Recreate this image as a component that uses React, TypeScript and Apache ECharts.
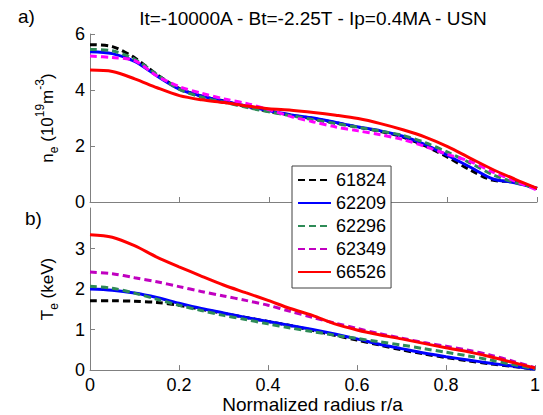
import React, { useEffect, useRef } from "react";
import * as echarts from "echarts";

const radius = [0, 0.05, 0.1, 0.15, 0.2, 0.25, 0.3, 0.35, 0.4, 0.45, 0.5, 0.55, 0.6, 0.65, 0.7, 0.75, 0.8, 0.85, 0.9, 0.95, 1.0];

const shots = ["61824", "62209", "62296", "62349", "66526"];

// electron density n_e (10^19 m^-3)
const ne61824 = [5.62, 5.55, 5.15, 4.55, 4.05, 3.78, 3.6, 3.4, 3.24, 3.1, 2.98, 2.83, 2.67, 2.52, 2.32, 2.0, 1.6, 1.15, 0.78, 0.72, 0.48];
const ne62209 = [5.37, 5.3, 5.02, 4.5, 4.03, 3.78, 3.6, 3.42, 3.26, 3.11, 3.0, 2.84, 2.68, 2.54, 2.35, 2.05, 1.66, 1.25, 0.83, 0.69, 0.49];
const ne62296 = [5.45, 5.4, 5.1, 4.55, 4.02, 3.74, 3.56, 3.38, 3.22, 3.08, 2.94, 2.8, 2.67, 2.53, 2.38, 2.12, 1.78, 1.4, 0.98, 0.7, 0.5];
const ne62349 = [5.21, 5.16, 5.05, 4.5, 4.12, 3.88, 3.68, 3.52, 3.3, 3.05, 2.86, 2.68, 2.54, 2.4, 2.23, 1.98, 1.7, 1.45, 1.08, 0.75, 0.43];
const ne66526 = [4.71, 4.66, 4.4, 4.08, 3.8, 3.65, 3.55, 3.43, 3.33, 3.28, 3.2, 3.1, 2.98, 2.8, 2.58, 2.32, 1.98, 1.57, 1.17, 0.82, 0.49];

// electron temperature T_e (keV)
const te61824 = [1.71, 1.71, 1.7, 1.67, 1.6, 1.5, 1.4, 1.3, 1.2, 1.1, 0.98, 0.86, 0.74, 0.62, 0.5, 0.4, 0.31, 0.23, 0.15, 0.09, 0.02];
const te62209 = [2.0, 1.97, 1.9, 1.79, 1.65, 1.52, 1.41, 1.3, 1.2, 1.1, 1.0, 0.89, 0.77, 0.64, 0.53, 0.42, 0.33, 0.25, 0.17, 0.1, 0.02];
const te62296 = [2.07, 2.02, 1.9, 1.75, 1.6, 1.47, 1.35, 1.25, 1.14, 1.04, 0.95, 0.86, 0.78, 0.7, 0.62, 0.53, 0.44, 0.35, 0.25, 0.14, 0.03];
const te62349 = [2.42, 2.38, 2.28, 2.18, 2.06, 1.94, 1.83, 1.72, 1.6, 1.45, 1.3, 1.16, 1.03, 0.9, 0.79, 0.68, 0.59, 0.49, 0.37, 0.22, 0.06];
const te66526 = [3.34, 3.28, 3.07, 2.79, 2.55, 2.32, 2.1, 1.91, 1.72, 1.52, 1.35, 1.14, 0.99, 0.87, 0.77, 0.66, 0.55, 0.45, 0.33, 0.19, 0.05];

const xTicks = [0, 0.2, 0.4, 0.6, 0.8, 1];
const neTicks = [0, 2, 4, 6];
const teTicks = [0, 1, 2, 3];

const titleText = "It=-10000A - Bt=-2.25T - Ip=0.4MA - USN";

const FONT = "'Liberation Sans', Arial, sans-serif";
const AXIS_GRAY = "#808080";

const neSeries = [ne61824, ne62209, ne62296, ne62349, ne66526];
const teSeries = [te61824, te62209, te62296, te62349, te66526];
const colorsTop = ["#000000", "#0000ff", "#2e8b57", "#ff00ff", "#ff0000"];
const colorsBottom = ["#000000", "#0000ff", "#2e8b57", "#c000c0", "#ff0000"];
const dashed = [true, false, true, true, false];

const pairs = (vals: number[]) => radius.map((r, i) => [r, vals[i]]);

export default function App() {
  const ref = useRef<HTMLDivElement>(null);
  useEffect(() => {
    if (!ref.current) return;
    const chart = echarts.init(ref.current, null, { renderer: "svg" });

    const axisCommon = {
      axisLine: { show: true, lineStyle: { color: AXIS_GRAY, width: 1 } },
      axisTick: { show: true, inside: true, length: 5, lineStyle: { color: AXIS_GRAY } },
      splitLine: { show: false },
      axisLabel: { color: "#000", fontSize: 18, fontFamily: FONT, margin: 5 },
    };

    const series: any[] = [];
    shots.forEach((name, i) => {
      series.push({
        name,
        type: "line",
        xAxisIndex: 1,
        yAxisIndex: 1,
        data: pairs(teSeries[i]),
        showSymbol: false,
        symbol: "none",
        smooth: 0.3,
        lineStyle: { color: colorsBottom[i], width: 3, type: dashed[i] ? [7, 4] : "solid" },
        itemStyle: { color: colorsBottom[i] },
        z: 2 + i,
      });
    });
    shots.forEach((name, i) => {
      series.push({
        name,
        type: "line",
        xAxisIndex: 0,
        yAxisIndex: 0,
        data: pairs(neSeries[i]),
        showSymbol: false,
        symbol: "none",
        smooth: 0.3,
        lineStyle: { color: colorsTop[i], width: 3, type: dashed[i] ? [7, 4] : "solid" },
        itemStyle: { color: colorsTop[i] },
        z: 2 + i,
      });
    });

    const nameRich = {
      n: { fontSize: 17, fontFamily: FONT, color: "#000", lineHeight: 26, verticalAlign: "middle" },
      sub: { fontSize: 12, fontFamily: FONT, color: "#000", lineHeight: 12, verticalAlign: "bottom" },
      sup: { fontSize: 12, fontFamily: FONT, color: "#000", lineHeight: 12, verticalAlign: "top" },
    };

    chart.setOption({
      animation: false,
      grid: [
        { left: 90, top: 34, width: 447, height: 168 },
        { left: 90, top: 208, width: 447, height: 164 },
      ],
      xAxis: [
        {
          ...axisCommon,
          gridIndex: 0,
          type: "value",
          min: xTicks[0],
          max: xTicks[xTicks.length - 1],
          interval: 0.2,
          axisLabel: { show: false },
        },
        {
          ...axisCommon,
          gridIndex: 1,
          type: "value",
          min: xTicks[0],
          max: xTicks[xTicks.length - 1],
          interval: 0.2,
          name: "Normalized radius r/a",
          nameLocation: "middle",
          nameGap: 20,
          nameTextStyle: { color: "#000", fontSize: 19, fontFamily: FONT },
          axisLabel: { ...axisCommon.axisLabel, margin: 6 },
        },
      ],
      yAxis: [
        {
          ...axisCommon,
          gridIndex: 0,
          type: "value",
          min: neTicks[0],
          max: neTicks[neTicks.length - 1],
          interval: 2,
          name: "{n|n}{sub|e}{n| (10}{sup|19}{n|m}{sup|-3}{n|)}",
          nameLocation: "middle",
          nameRotate: 90,
          nameGap: 30,
          nameTextStyle: { rich: nameRich },
        },
        {
          ...axisCommon,
          gridIndex: 1,
          type: "value",
          min: teTicks[0],
          max: 4,
          interval: 1,
          name: "{n|T}{sub|e}{n| (keV)}",
          nameLocation: "middle",
          nameRotate: 90,
          nameGap: 30,
          nameTextStyle: { rich: nameRich },
          axisLabel: { ...axisCommon.axisLabel, showMaxLabel: false },
        },
      ],
      legend: {
        orient: "vertical",
        left: 292,
        top: 166,
        data: shots,
        itemWidth: 33,
        itemHeight: 16,
        itemGap: 5,
        padding: [5, 5, 7, 5],
        backgroundColor: "#ffffff",
        borderColor: "#404040",
        borderWidth: 1,
        borderRadius: 0,
        itemStyle: { opacity: 0 },
        textStyle: { color: "#000", fontSize: 18, fontFamily: FONT, lineHeight: 16 },
        z: 20,
      },
      graphic: [
        {
          type: "text",
          left: 18,
          top: 7,
          style: { text: "a)", fontSize: 19, fontFamily: FONT, fill: "#000" },
        },
        {
          type: "text",
          left: 25,
          top: 209,
          style: { text: "b)", fontSize: 19, fontFamily: FONT, fill: "#000" },
        },
        {
          type: "text",
          x: 313,
          y: 18,
          style: {
            text: titleText,
            fontSize: 19,
            fontFamily: FONT,
            fill: "#000",
            align: "center",
            verticalAlign: "middle",
          },
        },
      ],
      series,
    });

    return () => chart.dispose();
  }, []);

  return (
    <div
      ref={ref}
      style={{ position: "fixed", left: 0, top: 0, width: 543, height: 415, background: "#fff" }}
    />
  );
}
